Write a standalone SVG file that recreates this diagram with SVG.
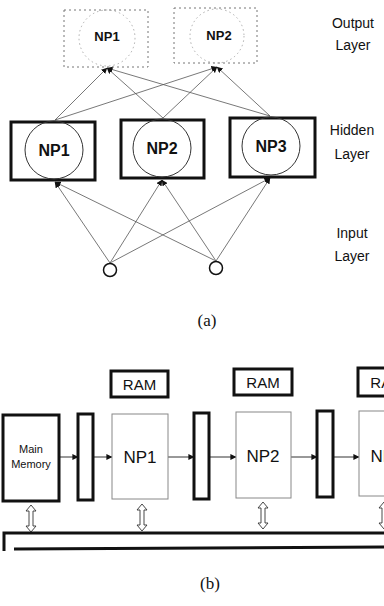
<svg xmlns="http://www.w3.org/2000/svg" width="384" height="606" viewBox="0 0 384 606">
  <style>
    .lbl { font-family: "Liberation Sans", Arial, sans-serif; fill: #111; }
    .cap { font-family: "Liberation Serif", "Times New Roman", serif; font-size: 17px; fill: #111; text-anchor: middle; }
    .outbox { fill: none; stroke: #777; stroke-width: 1; stroke-dasharray: 2 3; }
    .outcirc { fill: none; stroke: #999; stroke-width: 0.8; stroke-dasharray: 1.5 3; }
    .hidbox { fill: #fff; stroke: #111; stroke-width: 3; }
    .neuron { fill: none; stroke: #333; stroke-width: 1; }
    .wire { stroke: #555; stroke-width: 0.8; fill: none; }
    .thick { fill: #fff; stroke: #111; stroke-width: 3; }
    .thin { fill: #fff; stroke: #888; stroke-width: 1; }
    .flow { stroke: #333; stroke-width: 1; fill: none; marker-end: url(#head); }
    .dbl { fill: #fff; stroke: #333; stroke-width: 0.9; }
    .bus { stroke: #111; stroke-width: 3; fill: none; }
  </style>
  <defs>
    <marker id="head" viewBox="0 0 8 8" refX="7.5" refY="4" markerWidth="6" markerHeight="6" markerUnits="userSpaceOnUse" orient="auto">
      <path d="M0,0 L8,4 L0,8 z" fill="#111"/>
    </marker>
    <marker id="tip" viewBox="0 0 8 8" refX="7.5" refY="4" markerWidth="6" markerHeight="6" markerUnits="userSpaceOnUse" orient="auto">
      <path d="M0,0 L8,4 L0,8 z" fill="#111"/>
    </marker>
  </defs>

  <!-- (a) layered network -->
  <g id="connectors-a">
    <!-- input to hidden -->
    <line class="wire" x1="110" y1="263" x2="55" y2="182" marker-end="url(#tip)"/>
    <line class="wire" x1="110" y1="263" x2="162" y2="180" marker-end="url(#tip)"/>
    <line class="wire" x1="110" y1="263" x2="270" y2="178" marker-end="url(#tip)"/>
    <line class="wire" x1="216" y1="261" x2="55" y2="182" marker-end="url(#tip)"/>
    <line class="wire" x1="216" y1="261" x2="162" y2="180" marker-end="url(#tip)"/>
    <line class="wire" x1="216" y1="261" x2="270" y2="178" marker-end="url(#tip)"/>
    <!-- hidden to output -->
    <line class="wire" x1="55" y1="120" x2="107" y2="68" marker-end="url(#tip)"/>
    <line class="wire" x1="55" y1="120" x2="217" y2="67" marker-end="url(#tip)"/>
    <line class="wire" x1="163" y1="118" x2="107" y2="68" marker-end="url(#tip)"/>
    <line class="wire" x1="163" y1="118" x2="217" y2="67" marker-end="url(#tip)"/>
    <line class="wire" x1="270" y1="116" x2="107" y2="68" marker-end="url(#tip)"/>
    <line class="wire" x1="270" y1="116" x2="217" y2="67" marker-end="url(#tip)"/>
  </g>

  <g id="out-np1">
    <rect class="outbox" x="64" y="10" width="84" height="57"/>
    <circle class="outcirc" cx="107" cy="38" r="28"/>
    <text class="lbl" x="107" y="41" font-size="13" font-weight="bold" text-anchor="middle" fill="#333">NP1</text>
  </g>
  <g id="out-np2">
    <rect class="outbox" x="174" y="8" width="83" height="55"/>
    <circle class="outcirc" cx="217" cy="36" r="27"/>
    <text class="lbl" x="219" y="40" font-size="13" font-weight="bold" text-anchor="middle" fill="#333">NP2</text>
  </g>

  <g id="hid-np1">
    <rect class="hidbox" x="11" y="122" width="84" height="58"/>
    <circle class="neuron" cx="54" cy="150" r="29"/>
    <text class="lbl" x="54" y="156" font-size="16" font-weight="bold" text-anchor="middle">NP1</text>
  </g>
  <g id="hid-np2">
    <rect class="hidbox" x="121" y="120" width="83" height="58"/>
    <circle class="neuron" cx="162" cy="148" r="29"/>
    <text class="lbl" x="162" y="154" font-size="16" font-weight="bold" text-anchor="middle">NP2</text>
  </g>
  <g id="hid-np3">
    <rect class="hidbox" x="230" y="118" width="85" height="59"/>
    <circle class="neuron" cx="271" cy="146" r="29"/>
    <text class="lbl" x="271" y="152" font-size="16" font-weight="bold" text-anchor="middle">NP3</text>
  </g>

  <g id="in-1"><circle cx="110" cy="270" r="6.5" fill="#fff" stroke="#111" stroke-width="1.5"/></g>
  <g id="in-2"><circle cx="216" cy="268" r="6.5" fill="#fff" stroke="#111" stroke-width="1.5"/></g>

  <g id="layer-labels" class="lbl" font-size="14">
    <text x="353" y="28" text-anchor="middle">Output</text>
    <text x="353" y="50" text-anchor="middle">Layer</text>
    <text x="352" y="135" text-anchor="middle">Hidden</text>
    <text x="352" y="159" text-anchor="middle">Layer</text>
    <text x="352" y="238" text-anchor="middle">Input</text>
    <text x="352" y="261" text-anchor="middle">Layer</text>
  </g>

  <text class="cap" x="207" y="326">(a)</text>

  <!-- (b) pipelined processors -->
  <g id="connectors-b">
    <line class="flow" x1="59" y1="457" x2="78" y2="457"/>
    <line class="flow" x1="93" y1="457" x2="112" y2="457"/>
    <line class="flow" x1="168" y1="457" x2="194" y2="457"/>
    <line class="flow" x1="209" y1="457" x2="236" y2="457"/>
    <line class="flow" x1="291" y1="457" x2="317" y2="457"/>
    <line class="flow" x1="333" y1="457" x2="359" y2="457"/>
    <!-- hollow two-way arrows to the bus -->
    <path class="dbl" d="M31,505 L36,511 L33,511 L33,526 L36,526 L31,532 L26,526 L29,526 L29,511 L26,511 Z"/>
    <path class="dbl" d="M142,504 L147,510 L144,510 L144,525 L147,525 L142,531 L137,525 L140,525 L140,510 L137,510 Z"/>
    <path class="dbl" d="M263,502 L268,508 L265,508 L265,523 L268,523 L263,529 L258,523 L261,523 L261,508 L258,508 Z"/>
    <path class="dbl" d="M384,502 L389,508 L386,508 L386,523 L389,523 L384,529 L379,523 L382,523 L382,508 L379,508 Z"/>
  </g>

  <g id="bus">
    <path class="bus" d="M386,533 L4,533 L4,551"/>
    <path class="bus" d="M14,549 L386,547"/>
  </g>

  <g id="main-memory">
    <rect class="thick" x="3" y="415" width="56" height="86"/>
    <text class="lbl" x="31" y="453" font-size="11" text-anchor="middle">Main</text>
    <text class="lbl" x="31" y="468" font-size="11" text-anchor="middle">Memory</text>
  </g>
  <g id="reg-1"><rect class="thick" x="78" y="414" width="15" height="86"/></g>
  <g id="reg-2"><rect class="thick" x="194" y="413" width="15" height="86"/></g>
  <g id="reg-3"><rect class="thick" x="317" y="411" width="16" height="86"/></g>

  <g id="np1">
    <rect class="thin" x="112" y="414" width="56" height="85"/>
    <text class="lbl" x="140" y="463" font-size="17" text-anchor="middle">NP1</text>
  </g>
  <g id="np2">
    <rect class="thin" x="236" y="412" width="55" height="86"/>
    <text class="lbl" x="263" y="462" font-size="17" text-anchor="middle">NP2</text>
  </g>
  <g id="np3">
    <rect class="thin" x="359" y="411" width="56" height="85"/>
    <text class="lbl" x="387" y="462" font-size="17" text-anchor="middle">NP3</text>
  </g>

  <g id="ram-1">
    <rect class="thick" x="111" y="371" width="57" height="26"/>
    <text class="lbl" x="139.5" y="390" font-size="15" text-anchor="middle">RAM</text>
  </g>
  <g id="ram-2">
    <rect class="thick" x="234" y="369" width="58" height="26"/>
    <text class="lbl" x="263" y="388" font-size="15" text-anchor="middle">RAM</text>
  </g>
  <g id="ram-3">
    <rect class="thick" x="358" y="368" width="58" height="28"/>
    <text class="lbl" x="387" y="388" font-size="15" text-anchor="middle">RAM</text>
  </g>

  <text class="cap" x="210" y="589">(b)</text>
</svg>
